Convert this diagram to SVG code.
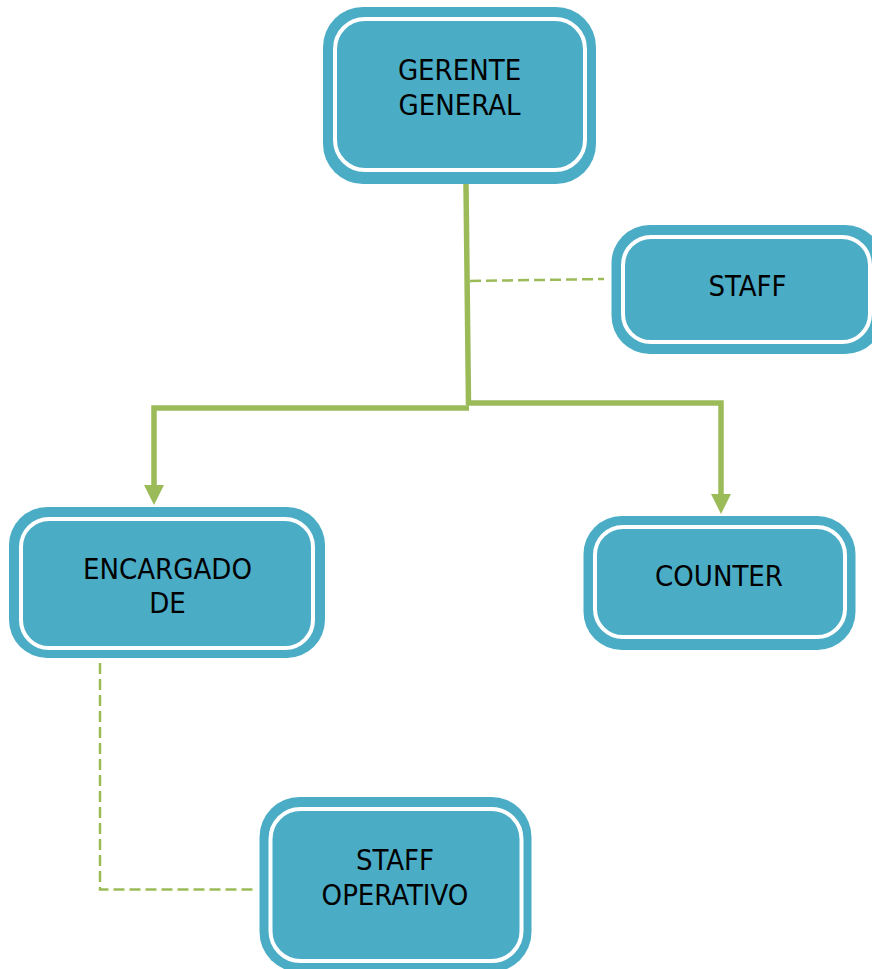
<svg xmlns="http://www.w3.org/2000/svg" width="872" height="969" viewBox="0 0 872 969">
  <style>
    .box { fill: #4BACC6; }
    .rim { fill: none; stroke: #FFFFFF; stroke-width: 4; }
    .lbl { font-family: "DejaVu Sans Condensed", "DejaVu Sans", "Liberation Sans", sans-serif; font-stretch: condensed; font-size: 29px; fill: #000000; text-anchor: middle; }
    .solid { fill: none; stroke: #9BBB59; stroke-width: 5.5; stroke-linejoin: miter; }
    .dash { fill: none; stroke: #9BBB59; stroke-width: 2.5; stroke-dasharray: 11 5; }
  </style>
  <defs>
    <marker id="arrow" viewBox="0 0 20 20" refX="0" refY="10" markerWidth="20" markerHeight="20" markerUnits="userSpaceOnUse" orient="auto">
      <path d="M0,0 L20,10 L0,20 Z" fill="#9BBB59"/>
    </marker>
  </defs>

  <rect width="872" height="969" fill="#FFFFFF"/>

  <!-- connectors -->
  <g id="connectors">
    <polyline class="solid" points="466,184 468.5,405"/>
    <polyline class="solid" points="467,403 721,403 721,494" marker-end="url(#arrow)"/>
    <polyline class="solid" points="469,408 154,408 154,485" marker-end="url(#arrow)"/>
    <polyline class="dash" points="470,281 604,279"/>
    <polyline class="dash" points="100,663 100,889.5 253,889.5"/>
  </g>

  <!-- nodes -->
  <g id="gerente-general">
    <rect class="box" x="323" y="7" width="273" height="177" rx="40"/>
    <rect class="rim" x="335" y="19" width="250" height="151" rx="30"/>
    <text class="lbl" x="459.5" y="80">GERENTE</text>
    <text class="lbl" x="459.5" y="115">GENERAL</text>
  </g>

  <g id="staff">
    <rect class="box" x="611.5" y="225" width="272" height="129" rx="38"/>
    <rect class="rim" x="623" y="237" width="247" height="105" rx="28"/>
    <text class="lbl" x="747.5" y="296">STAFF</text>
  </g>

  <g id="encargado">
    <rect class="box" x="9" y="507" width="316" height="151" rx="38"/>
    <rect class="rim" x="21" y="519" width="292" height="129" rx="28"/>
    <text class="lbl" x="167.5" y="579">ENCARGADO</text>
    <text class="lbl" x="167.5" y="613">DE</text>
  </g>

  <g id="counter">
    <rect class="box" x="583.5" y="516" width="272" height="134" rx="38"/>
    <rect class="rim" x="595" y="527" width="250" height="110" rx="28"/>
    <text class="lbl" x="719" y="586">COUNTER</text>
  </g>

  <g id="staff-operativo">
    <rect class="box" x="259.5" y="797" width="272" height="175" rx="40"/>
    <rect class="rim" x="270.5" y="809" width="251" height="152" rx="30"/>
    <text class="lbl" x="395" y="870">STAFF</text>
    <text class="lbl" x="395" y="905">OPERATIVO</text>
  </g>
</svg>
